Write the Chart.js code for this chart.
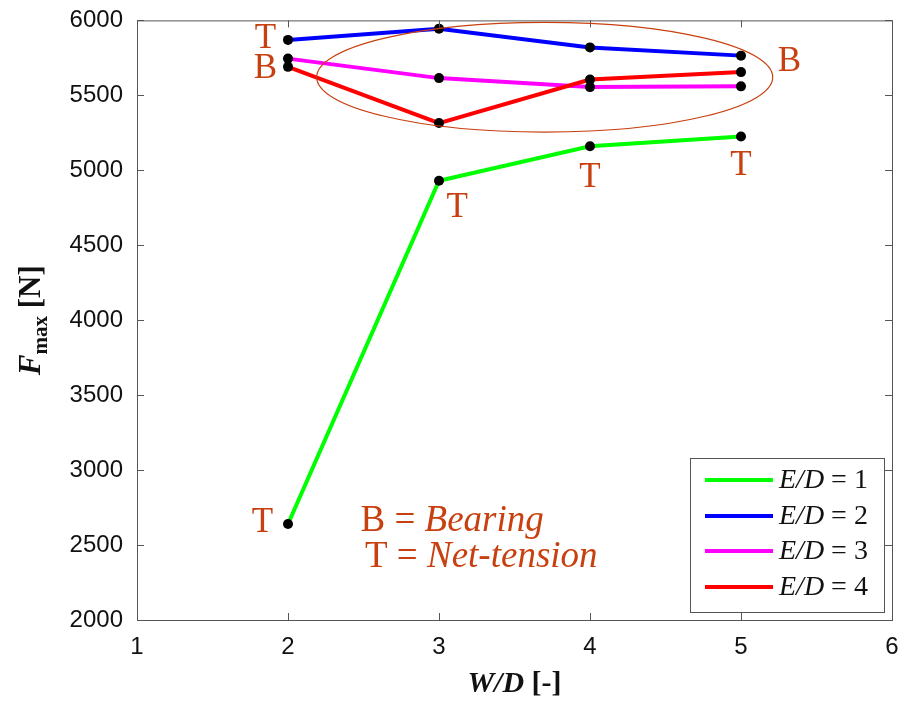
<!DOCTYPE html>
<html>
<head>
<meta charset="utf-8">
<script src="https://cdn.jsdelivr.net/npm/chart.js@4"></script>
<style>
  body { margin: 0; background: #fff; }
  canvas { display: block; }
</style>
</head>
<body>
<canvas id="chart" width="904" height="702"></canvas>
<script>
// W/D ratios on the x axis
const wdValues = [2, 3, 4, 5];
// max force per E/D ratio [N]
const ed1 = [2640, 4930, 5160, 5225];
const ed2 = [5870, 5945, 5820, 5765];
const ed3 = [5745, 5615, 5555, 5560];
const ed4 = [5690, 5315, 5605, 5655];
const seriesLabels = ['1', '2', '3', '4'];
const seriesColors = ['#00ff00', '#0000ff', '#ff00ff', '#ff0000'];
const xTicks = [1, 2, 3, 4, 5, 6];
const yTicks = [2000, 2500, 3000, 3500, 4000, 4500, 5000, 5500, 6000];

// failure mode marks, in data coordinates
const modeMarks = [
  { text: 'T', x: 1.85, y: 5880 },
  { text: 'B', x: 1.85, y: 5680 },
  { text: 'T', x: 1.83, y: 2646 },
  { text: 'T', x: 3.12, y: 4750 },
  { text: 'T', x: 4.0, y: 4950 },
  { text: 'T', x: 5.0, y: 5030 },
  { text: 'B', x: 5.32, y: 5727 }
];

const noteColor = '#c8400f';
const serif = '"Liberation Serif", "Times New Roman", serif';

function toPoints(values) {
  return wdValues.map((x, i) => ({ x: x, y: values[i] }));
}

const allSeries = [ed1, ed2, ed3, ed4];
const datasets = allSeries.map((vals, i) => ({
  label: 'E/D = ' + seriesLabels[i],
  data: toPoints(vals),
  borderColor: seriesColors[i],
  borderWidth: 4,
  pointRadius: 5,
  pointBackgroundColor: '#000',
  pointBorderColor: '#000',
  pointBorderWidth: 0,
  tension: 0,
  order: 4 - i
}));

const decorPlugin = {
  id: 'decor',
  afterDraw(chart) {
    const ctx = chart.ctx;
    const area = chart.chartArea;
    const xs = chart.scales.x;
    const ys = chart.scales.y;
    ctx.save();

    // box and inward ticks
    ctx.strokeStyle = '#555';
    ctx.lineWidth = 1;
    ctx.strokeRect(area.left + 0.5, area.top + 0.5, area.right - area.left, area.bottom - area.top);
    ctx.beginPath();
    xTicks.forEach(v => {
      const px = Math.round(xs.getPixelForValue(v)) + 0.5;
      ctx.moveTo(px, area.bottom); ctx.lineTo(px, area.bottom - 7);
      ctx.moveTo(px, area.top); ctx.lineTo(px, area.top + 7);
    });
    yTicks.forEach(v => {
      const py = Math.round(ys.getPixelForValue(v)) + 0.5;
      ctx.moveTo(area.left, py); ctx.lineTo(area.left + 7, py);
      ctx.moveTo(area.right, py); ctx.lineTo(area.right - 7, py);
    });
    ctx.stroke();

    // ellipse around the upper group
    const cx = xs.getPixelForValue(3.7);
    const cy = ys.getPixelForValue(5621);
    const rx = xs.getPixelForValue(5.21) - cx;
    const ry = cy - ys.getPixelForValue(5987);
    ctx.strokeStyle = noteColor;
    ctx.lineWidth = 1.2;
    ctx.beginPath();
    ctx.ellipse(cx, cy, rx, ry, 0, 0, Math.PI * 2);
    ctx.stroke();

    // failure mode letters
    ctx.fillStyle = noteColor;
    ctx.font = '35px ' + serif;
    ctx.textAlign = 'center';
    ctx.textBaseline = 'middle';
    modeMarks.forEach(m => {
      ctx.fillText(m.text, xs.getPixelForValue(m.x), ys.getPixelForValue(m.y));
    });

    // B / T explanation
    ctx.textAlign = 'left';
    let tx = xs.getPixelForValue(2.48);
    let ty = ys.getPixelForValue(2660);
    ctx.font = '37px ' + serif;
    ctx.fillText('B = ', tx, ty);
    let w = ctx.measureText('B = ').width;
    ctx.font = 'italic 37px ' + serif;
    ctx.fillText('Bearing', tx + w, ty);
    tx = xs.getPixelForValue(2.51);
    ty = ys.getPixelForValue(2420);
    ctx.font = '37px ' + serif;
    ctx.fillText('T = ', tx, ty);
    w = ctx.measureText('T = ').width;
    ctx.font = 'italic 37px ' + serif;
    ctx.fillText('Net-tension', tx + w, ty);

    // legend
    const lw = 194, lh = 154;
    const lx = area.right - 8 - lw;
    const ly = area.bottom - 8 - lh;
    ctx.fillStyle = '#fff';
    ctx.fillRect(lx, ly, lw, lh);
    ctx.strokeStyle = '#555';
    ctx.lineWidth = 1;
    ctx.strokeRect(lx + 0.5, ly + 0.5, lw, lh);
    const rowY = [22, 58, 93, 129];
    datasets.forEach((ds, i) => {
      const yy = ly + rowY[i];
      ctx.strokeStyle = ds.borderColor;
      ctx.lineWidth = 4;
      ctx.beginPath();
      ctx.moveTo(lx + 15, yy); ctx.lineTo(lx + 83, yy);
      ctx.stroke();
      ctx.fillStyle = '#111';
      ctx.textBaseline = 'middle';
      ctx.font = 'italic 28px ' + serif;
      ctx.fillText('E/D', lx + 89, yy + 1);
      const ew = ctx.measureText('E/D').width;
      ctx.font = '28px ' + serif;
      ctx.fillText(' = ' + seriesLabels[i], lx + 89 + ew, yy + 1);
    });

    // y title: F_max [N]
    ctx.save();
    ctx.translate(30, (area.top + area.bottom) / 2);
    ctx.rotate(-Math.PI / 2);
    ctx.fillStyle = '#111';
    ctx.textBaseline = 'alphabetic';
    ctx.font = 'bold italic 31px ' + serif;
    const fW = ctx.measureText('F').width;
    ctx.font = 'bold 21px ' + serif;
    const mW = ctx.measureText('max').width;
    ctx.font = 'bold 31px ' + serif;
    const nW = ctx.measureText(' [N]').width;
    let sx = -(fW + mW + nW) / 2;
    ctx.font = 'bold italic 31px ' + serif;
    ctx.fillText('F', sx, 10);
    ctx.font = 'bold 21px ' + serif;
    ctx.fillText('max', sx + fW, 17);
    ctx.font = 'bold 31px ' + serif;
    ctx.fillText(' [N]', sx + fW + mW, 10);
    ctx.restore();

    // x title: W/D [-]
    ctx.fillStyle = '#111';
    ctx.textBaseline = 'middle';
    ctx.font = 'bold italic 30px ' + serif;
    const wdW = ctx.measureText('W/D').width;
    ctx.font = 'bold 30px ' + serif;
    const dW = ctx.measureText(' [-]').width;
    const xc = (area.left + area.right) / 2;
    ctx.font = 'bold italic 30px ' + serif;
    ctx.fillText('W/D', xc - (wdW + dW) / 2, 684);
    ctx.font = 'bold 30px ' + serif;
    ctx.fillText(' [-]', xc - (wdW + dW) / 2 + wdW, 684);

    ctx.restore();
  }
};

new Chart(document.getElementById('chart'), {
  type: 'line',
  data: { datasets: datasets },
  options: {
    responsive: false,
    animation: false,
    layout: { padding: { top: 19, right: 12, left: 0, bottom: 0 } },
    plugins: {
      legend: { display: false },
      tooltip: { enabled: false }
    },
    scales: {
      x: {
        type: 'linear',
        min: 1,
        max: 6,
        afterBuildTicks: s => { s.ticks = xTicks.map(v => ({ value: v })); },
        afterFit: s => { s.height = 82; },
        grid: { display: false },
        border: { display: false },
        ticks: {
          color: '#111',
          padding: 5,
          callback: v => String(v),
          font: { family: '"Liberation Sans", Arial, sans-serif', size: 24 }
        }
      },
      y: {
        min: 2000,
        max: 6000,
        afterBuildTicks: s => { s.ticks = yTicks.map(v => ({ value: v })); },
        afterFit: s => { s.width = 137; },
        grid: { display: false },
        border: { display: false },
        ticks: {
          color: '#111',
          padding: 6,
          callback: v => String(v),
          font: { family: '"Liberation Sans", Arial, sans-serif', size: 24 }
        }
      }
    }
  },
  plugins: [decorPlugin]
});
</script>
</body>
</html>
